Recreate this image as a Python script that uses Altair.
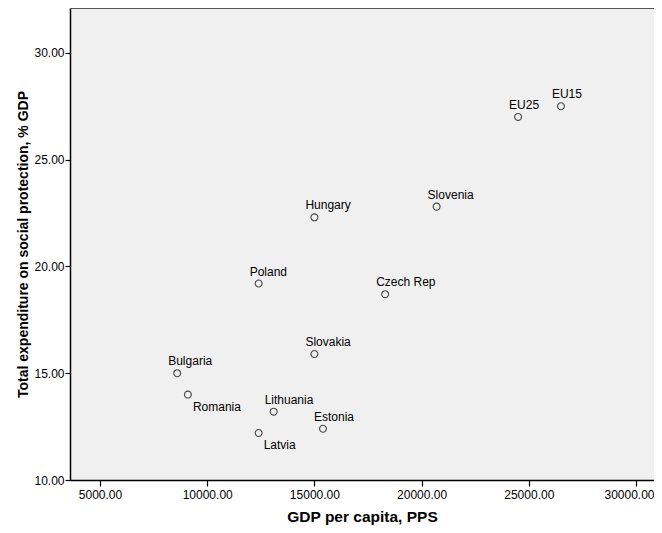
import altair as alt
import pandas as pd

countries = ["EU15", "EU25", "Slovenia", "Hungary", "Poland", "Czech Rep",
             "Slovakia", "Bulgaria", "Romania", "Lithuania", "Estonia", "Latvia"]
gdp_pps = [26500, 24500, 20700, 15000, 12400, 18300,
           15000, 8600, 9100, 13100, 15400, 12400]
social_exp = [27.5, 27.0, 22.8, 22.3, 19.2, 18.7,
              15.9, 15.0, 14.0, 13.2, 12.4, 12.2]
labels_below = ["Romania", "Latvia"]

df = pd.DataFrame({"country": countries, "gdp": gdp_pps, "exp": social_exp})
df["below"] = df["country"].isin(labels_below)

W, H = 584, 472

x = alt.X("gdp:Q", title="GDP per capita, PPS",
          scale=alt.Scale(domain=[3600, 30840], nice=False, zero=False),
          axis=alt.Axis(values=[5000, 10000, 15000, 20000, 25000, 30000], format=".2f",
                        grid=False, tickSize=6, labelPadding=3, titlePadding=9,
                        titleFontSize=15.5,
                        labelOffset={"condition": {"test": "datum.value >= 30000", "value": -7},
                                     "value": 0}))
y = alt.Y("exp:Q", title="Total expenditure on social protection, % GDP",
          scale=alt.Scale(domain=[10, 32.1], nice=False, zero=False),
          axis=alt.Axis(values=[10, 15, 20, 25, 30], format=".2f",
                        grid=False, tickSize=5, labelPadding=1, titlePadding=3,
                        titleFontSize=14))

base = alt.Chart(df)
points = base.mark_point(shape="circle", filled=False, color="black", size=48,
                         strokeWidth=1.1).encode(x=x, y=y)
above = base.transform_filter("!datum.below").mark_text(
    align="left", baseline="middle", dx=-9, dy=-12, fontSize=12,
    font="Liberation Sans", color="black").encode(x=x, y=y, text="country:N")
below = base.transform_filter("datum.below").mark_text(
    align="left", baseline="middle", dx=5, dy=12, fontSize=12,
    font="Liberation Sans", color="black").encode(x=x, y=y, text="country:N")
top_border = alt.Chart(df).mark_rule(color="#555555", strokeWidth=1.5).encode(
    x=alt.value(0), x2=alt.value(W), y=alt.value(0))

chart = (points + above + below + top_border).properties(
    width=W, height=H,
    autosize=alt.AutoSizeParams(type="none"),
    padding={"left": 62, "top": 0, "right": 0, "bottom": 45},
).configure_view(
    fill="#F0F0F0", strokeWidth=0
).configure_axis(
    domainColor="black", domainWidth=1.5, tickColor="black", tickWidth=1.2,
    labelFont="Liberation Sans", labelFontSize=12, labelColor="black",
    titleFont="Liberation Sans", titleFontWeight="bold",
    titleColor="black"
)

chart.save("out.html", embed_options={"renderer": "svg", "actions": False})
